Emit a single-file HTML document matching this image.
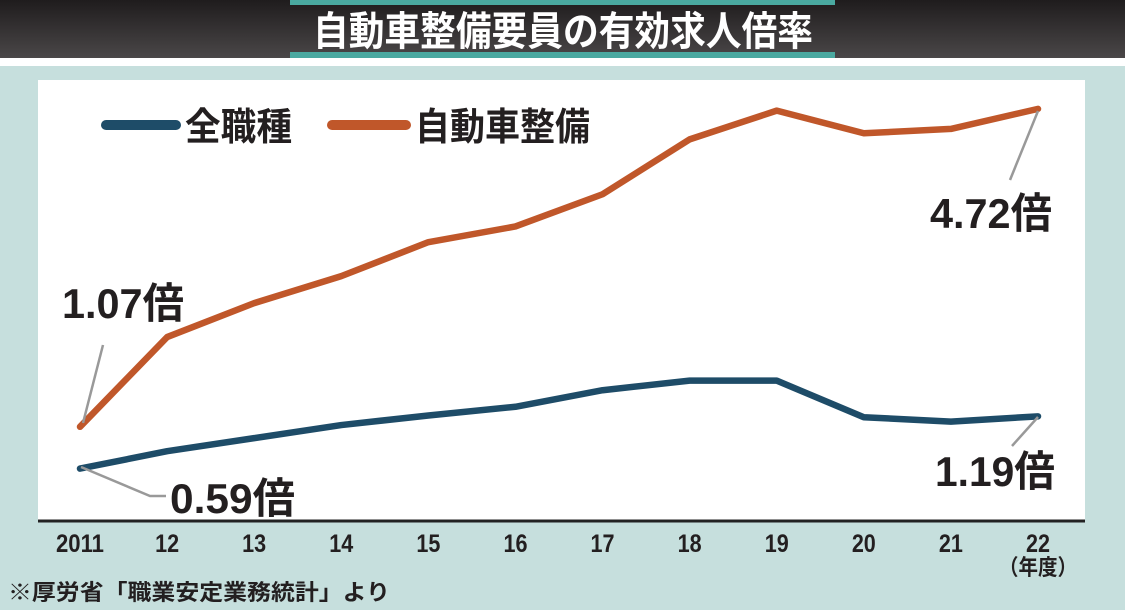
<!DOCTYPE html>
<html><head><meta charset="utf-8"><style>
html,body{margin:0;padding:0;width:1125px;height:610px;overflow:hidden;background:#c6dfdd;}
svg{display:block;font-family:"Liberation Sans","Noto Sans CJK JP",sans-serif;font-weight:bold;}
</style></head><body>
<svg width="1125" height="610" viewBox="0 0 1125 610">
<defs><linearGradient id="hg" x1="0" y1="0" x2="0" y2="1"><stop offset="0" stop-color="#1f1c1d"/><stop offset="1" stop-color="#4a4748"/></linearGradient></defs>
<rect x="0" y="0" width="1125" height="58" fill="url(#hg)"/>
<rect x="0" y="58" width="1125" height="8" fill="#ffffff"/>
<rect x="290" y="0" width="545" height="5" fill="#4aa9a0"/>
<rect x="290" y="52" width="545" height="6" fill="#4aa9a0"/>
<text x="563" y="45" text-anchor="middle" fill="#fff" font-size="40" textLength="500" lengthAdjust="spacingAndGlyphs">自動車整備要員の有効求人倍率</text>
<rect x="38" y="80" width="1047" height="441" fill="#fff"/>
<line x1="38" y1="521" x2="1085" y2="521" stroke="#222" stroke-width="3"/>
<g>
<line x1="106" y1="125" x2="176" y2="125" stroke="#1e4c68" stroke-width="10" stroke-linecap="round"/>
<text x="185" y="140" font-size="38" fill="#231f20" textLength="107" lengthAdjust="spacingAndGlyphs">全職種</text>
<line x1="332" y1="125" x2="406" y2="125" stroke="#c0572a" stroke-width="10" stroke-linecap="round"/>
<text x="415" y="140" font-size="38" fill="#231f20" textLength="175" lengthAdjust="spacingAndGlyphs">自動車整備</text>
</g>
<g id="marks"></g>
<g id="ticks"></g>
<text x="1038" y="575" text-anchor="middle" font-size="22" fill="#231f20" textLength="78" lengthAdjust="spacingAndGlyphs">（年度）</text>
<g>
<polyline points="83,423 103,345" fill="none" stroke="#999" stroke-width="2.5"/>
<polyline points="81,467 150,496 166,496" fill="none" stroke="#999" stroke-width="2.5"/>
<polyline points="1038,111 1010,180" fill="none" stroke="#999" stroke-width="2.5"/>
<polyline points="1038,417 1012,446" fill="none" stroke="#999" stroke-width="2.5"/>
<text x="62" y="318" font-size="42" fill="#231f20" textLength="122" lengthAdjust="spacingAndGlyphs">1.07倍</text>
<text x="170" y="513" font-size="42" fill="#231f20" textLength="125" lengthAdjust="spacingAndGlyphs">0.59倍</text>
<text x="930" y="228" font-size="42" fill="#231f20" textLength="122" lengthAdjust="spacingAndGlyphs">4.72倍</text>
<text x="935" y="486" font-size="42" fill="#231f20" textLength="120" lengthAdjust="spacingAndGlyphs">1.19倍</text>
</g>
<text x="8" y="600" font-size="22" fill="#231f20" textLength="382" lengthAdjust="spacingAndGlyphs">※厚労省「職業安定業務統計」より</text>
</svg>
<script>
const categories=["2011","12","13","14","15","16","17","18","19","20","21","22"];
const allJobs=[0.59,0.79,0.94,1.09,1.20,1.30,1.49,1.60,1.60,1.18,1.13,1.19];
const autoMech=[1.07,2.10,2.49,2.80,3.19,3.37,3.74,4.37,4.70,4.44,4.49,4.72];
const NS="http://www.w3.org/2000/svg";
function xPos(i){return 80+i*(1038-80)/(categories.length-1);}
function yPos(v){return 520-v*87.1;}
const marks=document.getElementById('marks');
function drawLine(vals,color,name){
  const p=document.createElementNS(NS,'polyline');
  p.setAttribute('points',vals.map((v,i)=>xPos(i)+','+yPos(v)).join(' '));
  p.setAttribute('fill','none');p.setAttribute('stroke',color);
  p.setAttribute('stroke-width','6.5');p.setAttribute('stroke-linejoin','round');p.setAttribute('stroke-linecap','round');
  
  
  marks.appendChild(p);
}
drawLine(autoMech,'#c0572a','series-auto-mechanic');
drawLine(allJobs,'#1e4c68','series-all-jobs');
const ticks=document.getElementById('ticks');
categories.forEach((c,i)=>{
  const t=document.createElementNS(NS,'text');
  t.setAttribute('x',xPos(i));t.setAttribute('y',552);
  t.setAttribute('text-anchor','middle');t.setAttribute('font-size','25');t.setAttribute('fill','#231f20');
  t.setAttribute('textLength',c.length*12);t.setAttribute('lengthAdjust','spacingAndGlyphs');
  t.textContent=c;
  
  
  ticks.appendChild(t);
});
</script>
</body></html>
